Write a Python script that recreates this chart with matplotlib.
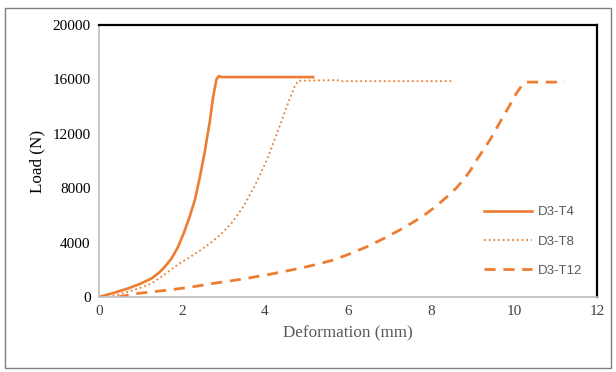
import numpy as np
import matplotlib.pyplot as plt
from matplotlib.patches import Rectangle

# values
t4_x = [0, 0.35, 0.71, 1.0, 1.27, 1.45, 1.59, 1.75, 1.9, 2.05, 2.19, 2.31, 2.43, 2.55,
        2.67, 2.75, 2.83, 2.89, 2.95, 5.16]
t4_y = [0, 300, 640, 980, 1370, 1800, 2230, 2850, 3650, 4750, 5950, 7130, 8800, 10700,
        12900, 14700, 16000, 16250, 16170, 16170]

t8_x = [0.22, 0.45, 0.71, 1.0, 1.27, 1.6, 1.93, 2.2, 2.45, 2.7, 2.93, 3.2, 3.48, 3.75,
        4.05, 4.25, 4.43, 4.6, 4.72, 4.8, 5.73, 5.85, 8.5]
t8_y = [0, 170, 390, 680, 1000, 1700, 2450, 2950, 3450, 4000, 4600, 5450, 6650, 8150,
        10100, 11700, 13200, 14600, 15500, 15900, 15950, 15870, 15870]

t12_x = [0.45, 0.95, 1.67, 2.2, 2.75, 3.2, 3.56, 4.2, 4.84, 5.25, 5.65, 6.05, 6.46, 6.85,
         7.25, 7.6, 7.9, 8.15, 8.39, 8.6, 8.78, 8.95, 9.1, 9.26, 9.42, 9.58, 9.74, 9.9,
         10.06, 10.18, 10.27, 11.23]
t12_y = [0, 270, 510, 720, 1000, 1200, 1370, 1720, 2110, 2400, 2720, 3180, 3700, 4280,
         4930, 5550, 6150, 6750, 7380, 7980, 8600, 9300, 10070, 10800, 11540, 12400, 13260,
         14100, 14980, 15500, 15800, 15800]

orange = '#ED7D31'

fig = plt.figure(figsize=(6.16, 3.72), dpi=100)
ax = fig.add_axes([0.1607, 0.2016, 0.8083, 0.7312])

ax.plot(t4_x, t4_y, color=orange, lw=1.9, label='D3-T4')
ax.plot(t8_x, t8_y, color=orange, lw=1.3, linestyle=(0, (1, 1.6)), label='D3-T8')
ax.plot(t12_x, t12_y, color=orange, lw=2.0, linestyle=(0, (4, 2.8)), label='D3-T12')

ax.set_xlim(0, 12)
ax.set_ylim(0, 20000)
ax.set_xticks(np.arange(0, 13, 2))
ax.set_yticks(np.arange(0, 20001, 4000))
ax.tick_params(length=0, pad=6, labelsize=11, labelcolor='#404040')
for lab in ax.get_xticklabels() + ax.get_yticklabels():
    lab.set_family('Liberation Serif')
for lab in ax.get_yticklabels():
    lab.set_color('black')

for s in ['left', 'bottom']:
    ax.spines[s].set_color('#BFBFBF')
    ax.spines[s].set_linewidth(1.2)
for s in ['top', 'right']:
    ax.spines[s].set_color('black')
    ax.spines[s].set_linewidth(1.6)

ax.set_xlabel('Deformation (mm)', family='Liberation Serif', fontsize=12.3, color='#595959', labelpad=5)
ax.set_ylabel('Load (N)', family='Liberation Serif', fontsize=12.3, color='black', labelpad=5)

leg = ax.legend(loc='lower right', bbox_to_anchor=(0.995, 0.03), frameon=False,
                prop={'family': 'Liberation Sans', 'size': 9.5}, handlelength=3.6,
                labelspacing=1.3, handletextpad=0.5)
for t in leg.get_texts():
    t.set_color('#595959')

fig.patches.append(Rectangle((0.008, 0.012), 0.984, 0.966, transform=fig.transFigure,
                             fill=False, edgecolor='#7F7F7F', lw=1.0))

fig.savefig('out.png', dpi=100)
